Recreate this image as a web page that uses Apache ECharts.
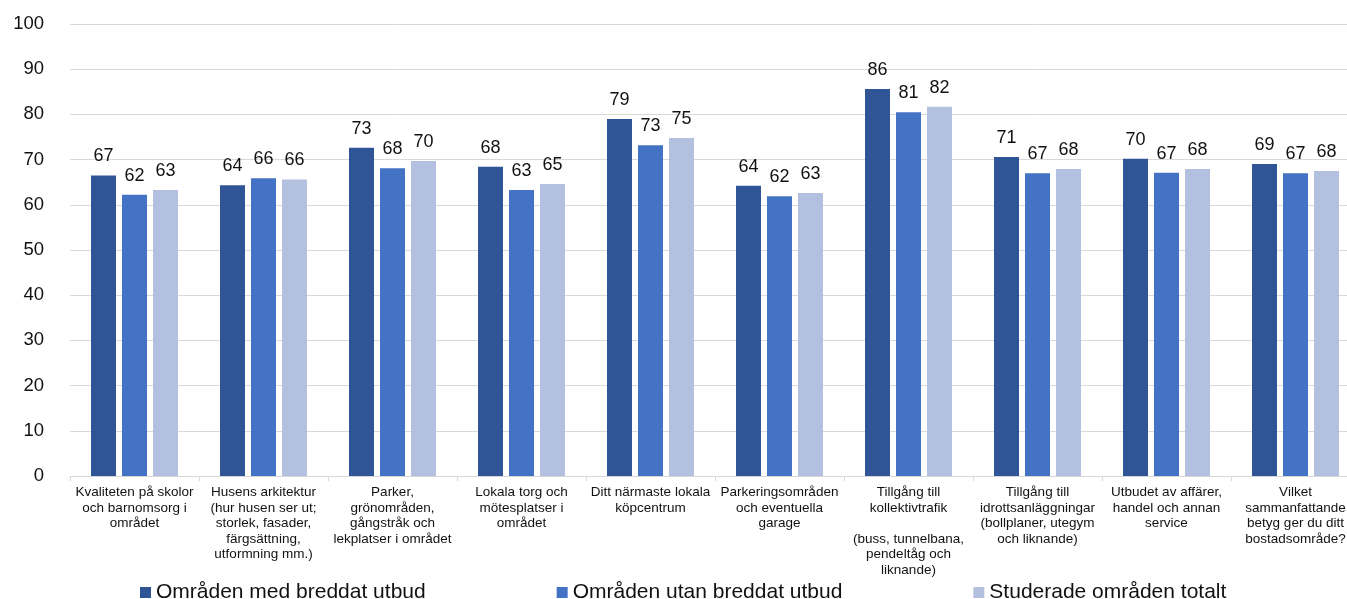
<!DOCTYPE html>
<html><head><meta charset="utf-8">
<script src="https://cdn.jsdelivr.net/npm/echarts@6/dist/echarts.min.js"></script>
<style>html,body{margin:0;padding:0;background:#fff;overflow:hidden}#c{width:1360px;height:599px}</style>
</head><body><div id="c"></div>
<script>
const categories = [
  "Kvaliteten på skolor\noch barnomsorg i\nområdet",
  "Husens arkitektur\n(hur husen ser ut;\nstorlek, fasader,\nfärgsättning,\nutformning mm.)",
  "Parker,\ngrönområden,\ngångstråk och\nlekplatser i området",
  "Lokala torg och\nmötesplatser i\nområdet",
  "Ditt närmaste lokala\nköpcentrum",
  "Parkeringsområden\noch eventuella\ngarage",
  "Tillgång till\nkollektivtrafik\n\n(buss, tunnelbana,\npendeltåg och\nliknande)",
  "Tillgång till\nidrottsanläggningar\n(bollplaner, utegym\noch liknande)",
  "Utbudet av affärer,\nhandel och annan\nservice",
  "Vilket\nsammanfattande\nbetyg ger du ditt\nbostadsområde?"
];
const seriesNames = ["Områden med breddat utbud", "Områden utan breddat utbud", "Studerade områden totalt"];
const medBreddat  = [66.5, 64.3, 72.6, 68.4, 79.0, 64.2, 85.6, 70.6, 70.2, 69.0];
const utanBreddat = [62.2, 65.9, 68.1, 63.3, 73.2, 61.9, 80.5, 67.0, 67.1, 67.0];
const totalt      = [63.3, 65.6, 69.7, 64.6, 74.8, 62.6, 81.7, 67.9, 67.9, 67.5];
const yTicks = [0, 10, 20, 30, 40, 50, 60, 70, 80, 90, 100];

const colors = ["#2F5597", "#4472C4", "#B4C0E0"];
const font = "Liberation Sans, Arial, sans-serif";
const mk = (name, data, i) => ({
  name, type: "bar", data,
  barWidth: 25, barGap: "24%",
  itemStyle: { color: colors[i] },
  label: { show: true, position: "top", distance: 10, color: "#111", fontSize: 18, fontFamily: font,
           formatter: p => Math.round(p.value) }
});
const chart = echarts.init(document.getElementById("c"), null, { renderer: "canvas" });
chart.setOption({
  animation: false,
  textStyle: { fontFamily: font },
  grid: { left: 70, top: 24, width: 1290, height: 452, containLabel: false },
  legend: {
    top: 577, left: 135, itemGap: 131, itemWidth: 11, itemHeight: 11, icon: "rect",
    textStyle: { fontSize: 21, color: "#111", fontFamily: font, padding: [0, 0, 0, 0] },
    data: seriesNames
  },
  xAxis: {
    type: "category", data: categories,
    axisLine: { lineStyle: { color: "#d9d9d9" } },
    axisTick: { show: true, length: 5, lineStyle: { color: "#d9d9d9" } },
    axisLabel: { interval: 0, color: "#111", fontSize: 13.5, lineHeight: 15.5, margin: 9, fontFamily: font }
  },
  yAxis: {
    type: "value", min: yTicks[0], max: yTicks[yTicks.length - 1], interval: 10,
    axisLine: { show: false }, axisTick: { show: false },
    axisLabel: { color: "#111", fontSize: 18.5, margin: 26, fontFamily: font },
    splitLine: { lineStyle: { color: "#d9d9d9", width: 1 } }
  },
  series: [mk(seriesNames[0], medBreddat, 0), mk(seriesNames[1], utanBreddat, 1), mk(seriesNames[2], totalt, 2)]
});
</script></body></html>
